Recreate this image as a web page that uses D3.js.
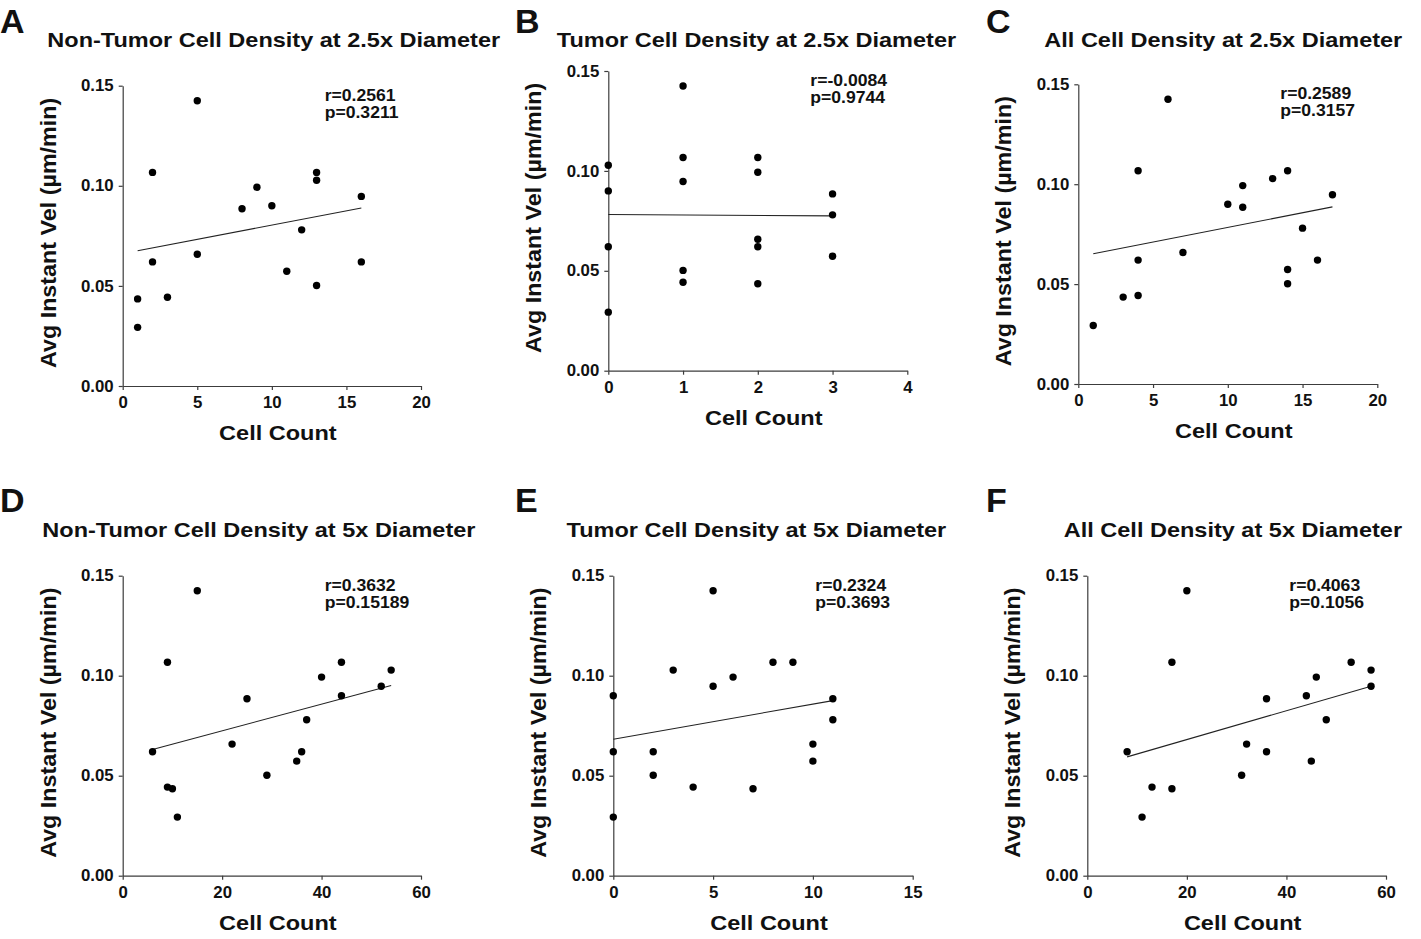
<!DOCTYPE html>
<html>
<head>
<meta charset="utf-8">
<script src="https://cdn.jsdelivr.net/npm/d3@7"></script>
<style>
  html, body { margin: 0; padding: 0; background: #fff; }
  svg { display: block; }
  text { font-family: "Liberation Sans", Arial, sans-serif; font-weight: bold; fill: #111; }
</style>
</head>
<body>
<svg id="fig" width="1421" height="939"></svg>
<script>
// ---- Data: cell counts around each cell vs. its average instantaneous velocity ----
const countsA = [1, 1, 2, 2, 3, 5, 5, 8, 9, 10, 11, 12, 13, 13, 13, 16, 16];
const velA    = [0.0435, 0.0293, 0.1067, 0.0620, 0.0443, 0.1425, 0.0658, 0.0885, 0.0993, 0.0900, 0.0573, 0.0780, 0.1067, 0.1028, 0.0502, 0.0947, 0.0620];

const countsB = [0, 0, 0, 0, 1, 1, 1, 1, 1, 2, 2, 2, 2, 2, 3, 3, 3];
const velB    = [0.1028, 0.0900, 0.0620, 0.0293, 0.1425, 0.1067, 0.0947, 0.0502, 0.0443, 0.1067, 0.0993, 0.0658, 0.0620, 0.0435, 0.0885, 0.0780, 0.0573];

const countsC = [1, 3, 4, 4, 4, 6, 7, 10, 11, 11, 13, 14, 14, 14, 15, 16, 17];
const velC    = [0.0293, 0.0435, 0.1067, 0.0620, 0.0443, 0.1425, 0.0658, 0.0900, 0.0993, 0.0885, 0.1028, 0.1067, 0.0573, 0.0502, 0.0780, 0.0620, 0.0947];

const countsD = [6, 9, 9, 10, 11, 15, 22, 25, 29, 35, 36, 37, 40, 44, 44, 52, 54];
const velD    = [0.0620, 0.1067, 0.0443, 0.0435, 0.0293, 0.1425, 0.0658, 0.0885, 0.0502, 0.0573, 0.0620, 0.0780, 0.0993, 0.1067, 0.0900, 0.0947, 0.1028];

const countsE = [0, 0, 0, 2, 2, 3, 4, 5, 5, 6, 7, 8, 9, 10, 10, 11, 11];
const velE    = [0.0900, 0.0620, 0.0293, 0.0620, 0.0502, 0.1028, 0.0443, 0.1425, 0.0947, 0.0993, 0.0435, 0.1067, 0.1067, 0.0658, 0.0573, 0.0885, 0.0780];

const countsF = [8, 11, 13, 17, 17, 20, 31, 32, 36, 36, 44, 45, 46, 48, 53, 57, 57];
const velF    = [0.0620, 0.0293, 0.0443, 0.1067, 0.0435, 0.1425, 0.0502, 0.0658, 0.0885, 0.0620, 0.0900, 0.0573, 0.0993, 0.0780, 0.1067, 0.1028, 0.0947];

// Panel labels, titles and correlation statistics
const panelLetters = ["A", "B", "C", "D", "E", "F"];
const panelTitles = [
  "Non-Tumor Cell Density at 2.5x Diameter",
  "Tumor Cell Density at 2.5x Diameter",
  "All Cell Density at 2.5x Diameter",
  "Non-Tumor Cell Density at 5x Diameter",
  "Tumor Cell Density at 5x Diameter",
  "All Cell Density at 5x Diameter"
];
const rValues = ["0.2561", "-0.0084", "0.2589", "0.3632", "0.2324", "0.4063"];
const pValues = ["0.3211", "0.9744", "0.3157", "0.15189", "0.3693", "0.1056"];

// Axis ranges and tick values
const xMaxes = [20, 4, 20, 60, 15, 60];
const xTickSteps = [5, 1, 5, 20, 5, 20];
const yTicks = [0, 0.05, 0.10, 0.15];

const xTitle = "Cell Count";
const yTitle = "Avg Instant Vel (\u00b5m/min)";

const seriesX = [countsA, countsB, countsC, countsD, countsE, countsF];
const seriesY = [velA, velB, velC, velD, velE, velF];

// ---- Layout of the six panels (plot rectangles, title centres, letter positions) ----
const layout = [
  { x0: 122.7, x1: 421.0, y0: 85.7,  y1: 386.0, titleCx: 273.7,  titleY: 46.7,  letterX: 0,   letterY: 33 },
  { x0: 608.3, x1: 907.3, y0: 71.0,  y1: 370.7, titleCx: 756.5,  titleY: 46.7,  letterX: 515, letterY: 33 },
  { x0: 1078.3,x1: 1377.3,y0: 84.3,  y1: 384.0, titleCx: 1223.3, titleY: 46.7,  letterX: 986, letterY: 33 },
  { x0: 122.7, x1: 421.0, y0: 575.7, y1: 875.7, titleCx: 258.9,  titleY: 537.3, letterX: 0,   letterY: 512 },
  { x0: 613.3, x1: 912.7, y0: 575.7, y1: 875.7, titleCx: 756.4,  titleY: 537.3, letterX: 515, letterY: 512 },
  { x0: 1087.3,x1: 1386.0,y0: 575.7, y1: 875.7, titleCx: 1232.9, titleY: 537.3, letterX: 986, letterY: 512 }
];

const SX = 1.12;              // horizontal widening of the lettering
const axisColor = "#3c3c3c";

// Move a text element's x/y into a transform and widen its glyphs horizontally.
function widen(sel, sx) {
  sel.each(function () {
    const t = d3.select(this);
    const x = +t.attr("x") || 0, y = +t.attr("y") || 0;
    const prev = t.attr("transform") || "";
    t.attr("x", null).attr("y", null)
     .attr("transform", `${prev} translate(${x},${y}) scale(${sx},1)`);
  });
}

// Ordinary least-squares fit
function linearFit(xs, ys) {
  const n = xs.length;
  const mx = d3.mean(xs), my = d3.mean(ys);
  let sxy = 0, sxx = 0;
  for (let i = 0; i < n; i++) {
    sxy += (xs[i] - mx) * (ys[i] - my);
    sxx += (xs[i] - mx) * (xs[i] - mx);
  }
  const slope = sxy / sxx;
  return { slope, intercept: my - slope * mx };
}

const svg = d3.select("#fig");

layout.forEach((L, i) => {
  const xs = seriesX[i], ys = seriesY[i];
  const x = d3.scaleLinear().domain([0, xMaxes[i]]).range([L.x0, L.x1]);
  const y = d3.scaleLinear().domain([0, 0.15]).range([L.y1, L.y0]);
  const g = svg.append("g");

  // Panel letter
  g.append("text")
    .attr("x", L.letterX).attr("y", L.letterY)
    .style("font-size", "34px")
    .text(panelLetters[i]);

  // Title
  g.append("text")
    .attr("x", L.titleCx).attr("y", L.titleY)
    .attr("text-anchor", "middle")
    .style("font-size", "21px")
    .text(panelTitles[i])
    .call(widen, SX);

  // X axis
  const xTicks = d3.range(0, xMaxes[i] + 1e-9, xTickSteps[i]);
  const gx = g.append("g")
    .attr("transform", `translate(0,${L.y1})`)
    .call(d3.axisBottom(x).tickValues(xTicks).tickFormat(d3.format("d"))
      .tickSizeInner(4).tickSizeOuter(0).tickPadding(7));
  // Y axis
  const gy = g.append("g")
    .attr("transform", `translate(${L.x0},0)`)
    .call(d3.axisLeft(y).tickValues(yTicks).tickFormat(d3.format(".2f"))
      .tickSizeInner(4).tickSizeOuter(0).tickPadding(5));

  [gx, gy].forEach(ax => {
    ax.select(".domain").attr("stroke", axisColor).attr("stroke-width", 1.2);
    ax.selectAll(".tick line").attr("stroke", axisColor).attr("stroke-width", 1.2);
    ax.selectAll(".tick text")
      .attr("fill", "#111")
      .style("font-size", "16px")
      .style("font-family", "'Liberation Sans', Arial, sans-serif")
      .style("font-weight", "bold")
      .call(widen, 1.05);
  });

  // Axis titles
  g.append("text")
    .attr("x", (L.x0 + L.x1) / 2 + 6).attr("y", L.y1 + 54)
    .attr("text-anchor", "middle")
    .style("font-size", "21px")
    .text(xTitle)
    .call(widen, SX);

  g.append("text")
    .attr("transform", `translate(${L.x0 - 67},${(L.y0 + L.y1) / 2 - 3}) rotate(-90)`)
    .attr("text-anchor", "middle")
    .style("font-size", "22px")
    .text(yTitle)
    .call(widen, 1.06);

  // Regression line across the observed count range
  const fit = linearFit(xs, ys);
  const [xmin, xmax] = d3.extent(xs);
  g.append("line")
    .attr("x1", x(xmin)).attr("y1", y(fit.intercept + fit.slope * xmin))
    .attr("x2", x(xmax)).attr("y2", y(fit.intercept + fit.slope * xmax))
    .attr("stroke", "#222").attr("stroke-width", 1.1);

  // Points
  g.append("g").selectAll("circle")
    .data(xs.map((d, k) => [d, ys[k]]))
    .join("circle")
    .attr("cx", d => x(d[0])).attr("cy", d => y(d[1]))
    .attr("r", 3.7)
    .attr("fill", "#000");

  // Correlation statistics
  const ann = g.append("g").attr("transform", `translate(${L.x0 + 202},${L.y0 + 15})`);
  ann.append("text").attr("x", 0).attr("y", 0)
    .style("font-size", "16px").text(`r=${rValues[i]}`).call(widen, 1.1);
  ann.append("text").attr("x", 0).attr("y", 17)
    .style("font-size", "16px").text(`p=${pValues[i]}`).call(widen, 1.1);
});
</script>
</body>
</html>
